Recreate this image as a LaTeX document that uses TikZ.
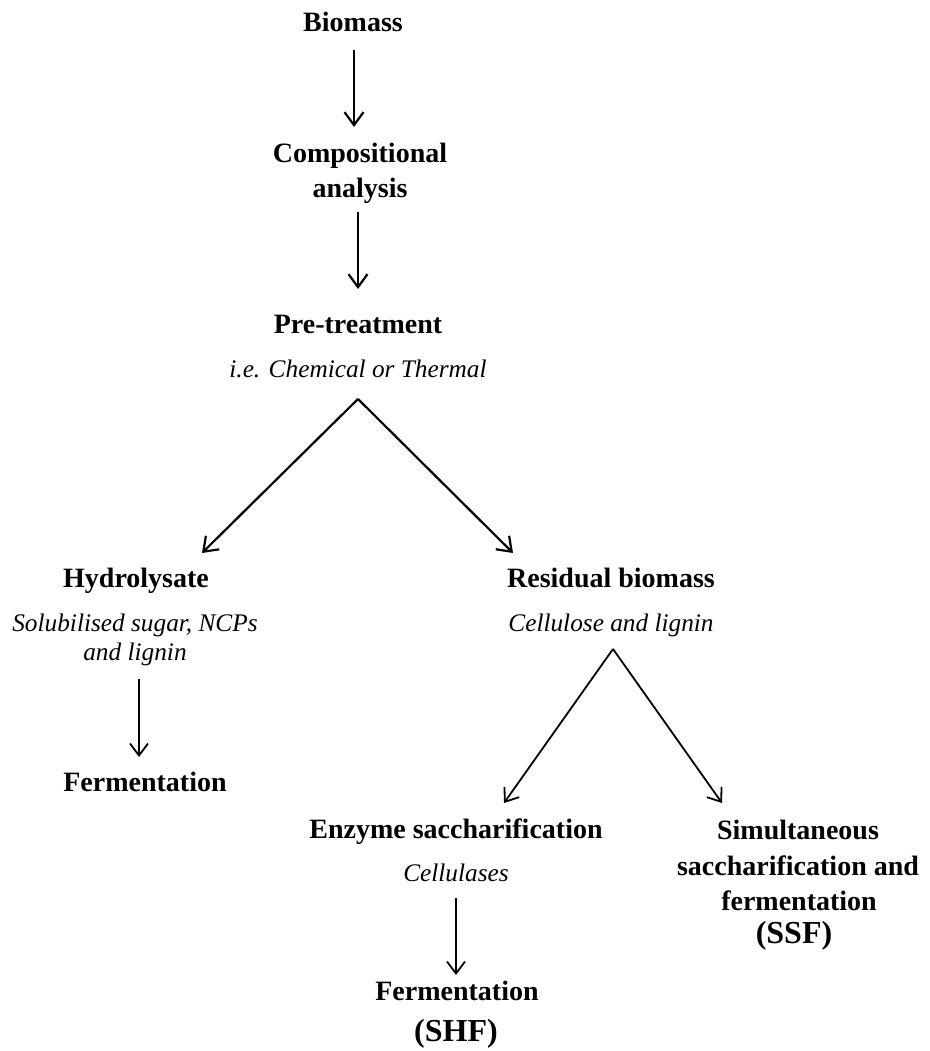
\documentclass[tikz,border=0pt]{standalone}
\usepackage{fontspec}
\setmainfont{Liberation Serif}
\usetikzlibrary{arrows.meta}
\tikzset{
  title/.style={anchor=base, inner sep=0pt, font=\bfseries\fontsize{28}{34}\selectfont},
  big/.style={anchor=base, inner sep=0pt, font=\bfseries\fontsize{32}{36}\selectfont},
  sub/.style={anchor=base, inner sep=0pt, font=\itshape\fontsize{25.3}{30}\selectfont},
  arr/.style={line width=2.2pt, -{Straight Barb[length=13pt,width=19pt,line width=2.2pt]}},
  arrthin/.style={line width=1.8pt, -{Straight Barb[length=12pt,width=18pt,line width=1.8pt]}}
}
\begin{document}
\begin{tikzpicture}[x=1pt,y=-1pt]
\useasboundingbox[fill=white] (0,0) rectangle (929,1051);
% nodes
\node[title] (bio) at (353,32) {Biomass};
\node[title] (comp1) at (360,163) {Compositional};
\node[title] (comp2) at (360,197) {analysis};
\node[title] (pre) at (358,333) {Pre-treatment};
\node[sub] (presub) at (358,377) {i.e. Chemical or Thermal};
\node[title] (hyd) at (136,587) {Hydrolysate};
\node[sub] (hydsub1) at (135,631) {Solubilised sugar, NCPs};
\node[sub] (hydsub2) at (135,660) {and lignin};
\node[title] (ferm1) at (145,791) {Fermentation};
\node[title] (res) at (611,587) {Residual biomass};
\node[sub] (ressub) at (611,631) {Cellulose and lignin};
\node[title] (enz) at (456,838) {Enzyme saccharification};
\node[sub] (enzsub) at (456,881) {Cellulases};
\node[title] (ferm2) at (457,1000) {Fermentation};
\node[big] (shf) at (456,1041) {(SHF)};
\node[title] (ssf1) at (798,839) {Simultaneous};
\node[title] (ssf2) at (798,875) {saccharification and};
\node[title] (ssf3) at (799,910) {fermentation};
\node[big] (ssf4) at (794,943) {(SSF)};
% connector end points
\coordinate (a1s) at (354,50);
\coordinate (a1e) at (354,127);
\coordinate (a2s) at (358,212);
\coordinate (a2e) at (358,289);
\coordinate (v1) at (358,399);
\coordinate (v1l) at (202,553);
\coordinate (v1r) at (513,553);
\coordinate (a3s) at (139,679);
\coordinate (a3e) at (139,757);
\coordinate (v2) at (613,649);
\coordinate (v2l) at (504,803);
\coordinate (v2r) at (722,803);
\coordinate (a4s) at (456,898);
\coordinate (a4e) at (456,975);
% connectors
\draw[arr] (a1s) -- (a1e);
\draw[arr] (a2s) -- (a2e);
\draw[arr] (v1) -- (v1l);
\draw[arr] (v1) -- (v1r);
\draw[arrthin] (a3s) -- (a3e);
\draw[arrthin] (v2) -- (v2l);
\draw[arrthin] (v2) -- (v2r);
\draw[arrthin] (a4s) -- (a4e);
\end{tikzpicture}
\end{document}
